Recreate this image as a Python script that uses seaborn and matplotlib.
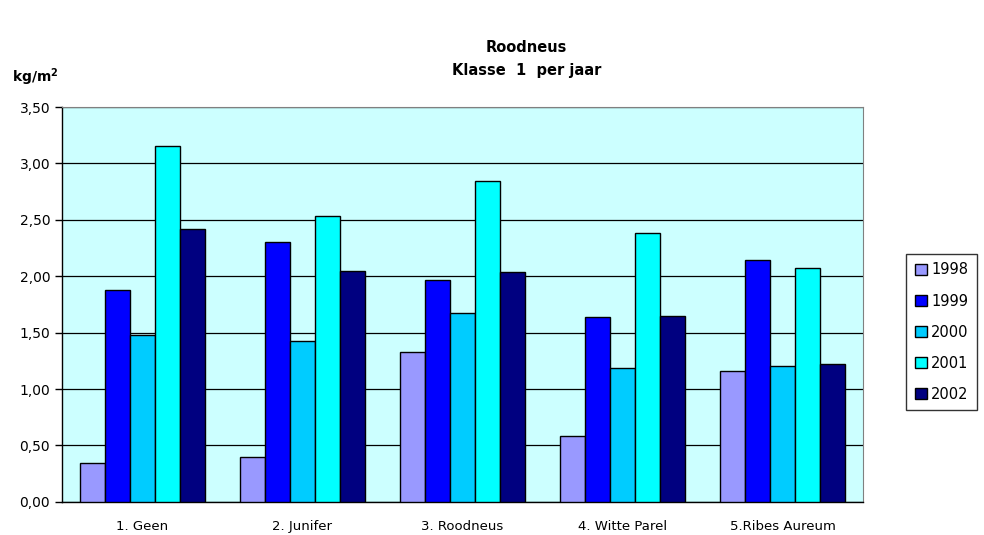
# Roodneus - klasse 1 opbrengst per jaar

import pandas as pd
import matplotlib.pyplot as plt
import matplotlib.ticker as mticker
import seaborn as sns

rassen = ['1. Geen', '2. Junifer', '3. Roodneus', '4. Witte Parel', '5.Ribes Aureum']
jaren = ['1998', '1999', '2000', '2001', '2002']

y1998 = [0.34, 0.40, 1.33, 0.58, 1.16]
y1999 = [1.88, 2.30, 1.97, 1.64, 2.14]
y2000 = [1.48, 1.43, 1.67, 1.19, 1.20]
y2001 = [3.15, 2.53, 2.84, 2.38, 2.07]
y2002 = [2.42, 2.05, 2.04, 1.65, 1.22]

kleuren = ['#9999FF', '#0000FF', '#00CCFF', '#00FFFF', '#000080']

# long format for seaborn
rows = []
for jaar, vals in zip(jaren, [y1998, y1999, y2000, y2001, y2002]):
    for ras, v in zip(rassen, vals):
        rows.append({'ras': ras, 'jaar': jaar, 'kg': v})
df = pd.DataFrame(rows)

sns.set_style('white')
plt.rcParams['font.family'] = ['DejaVu Sans']
plt.rcParams['text.color'] = 'black'
plt.rcParams['xtick.color'] = 'black'
plt.rcParams['ytick.color'] = 'black'

fig = plt.figure(figsize=(9.84, 5.35), dpi=100)
ax = fig.add_axes([0.063, 0.062, 0.814, 0.738])
ax.set_facecolor('#CCFFFF')

sns.barplot(data=df, x='ras', y='kg', hue='jaar', hue_order=jaren,
            order=rassen, palette=kleuren, width=0.78,
            edgecolor='black', linewidth=1, saturation=1, ax=ax, zorder=3)

ax.set_ylim(0, 3.5)
ax.set_xlim(-0.5, 4.5)
ax.yaxis.set_major_locator(mticker.MultipleLocator(0.5))
ax.yaxis.set_major_formatter(mticker.FuncFormatter(lambda v, p: f'{v:.2f}'.replace('.', ',')))
ax.grid(axis='y', color='black', linewidth=0.9, zorder=1)
ax.set_axisbelow(True)

# tick marks between the groups, labels centred
ax.set_xticks(range(len(rassen)))
ax.set_xticklabels(rassen, fontsize=9.5)
ax.set_xticks([i + 0.5 for i in range(-1, len(rassen))], minor=True)
ax.tick_params(axis='x', which='major', length=0, pad=13)
ax.tick_params(axis='x', which='minor', length=5, width=1, direction='out', color='black')
ax.tick_params(axis='y', length=5, width=1, direction='out', color='black', labelsize=10, left=True)

for s in ['left', 'bottom']:
    ax.spines[s].set_color('black')
    ax.spines[s].set_linewidth(1)
ax.spines['top'].set_color('#808080')
ax.spines['right'].set_color('#808080')

ax.set_xlabel('')
ax.set_ylabel('')

fig.text(0.535, 0.89, 'Roodneus\nKlasse  1  per jaar', ha='center', va='center',
         fontsize=10.5, fontweight='bold', linespacing=1.65)
fig.text(0.012, 0.855, 'kg/m$^\\mathbf{2}$', ha='left', va='center', fontsize=10, fontweight='bold')

leg = ax.legend(loc='center left', bbox_to_anchor=(1.045, 0.43), frameon=True,
                fancybox=False, edgecolor='black', fontsize=10.5,
                handlelength=0.8, handleheight=0.8, handletextpad=0.3,
                labelspacing=1.1, borderpad=0.6)
leg.get_frame().set_linewidth(1)

plt.savefig('out.png', dpi=100)
